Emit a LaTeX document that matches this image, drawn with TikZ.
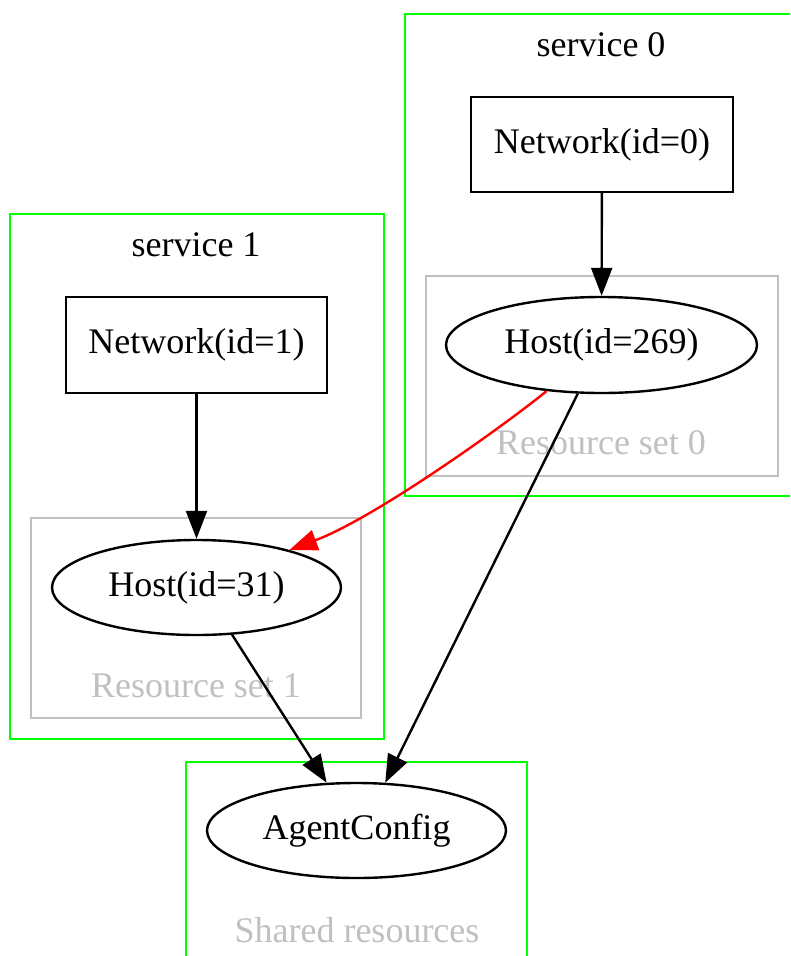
\documentclass[tikz,border=0pt]{standalone}
\usepackage{fontspec}
\setmainfont{Liberation Serif}
\usetikzlibrary{shapes.geometric,arrows.meta}
\definecolor{clgreen}{HTML}{00FF00}
\definecolor{clgray}{HTML}{C0C0C0}
\begin{document}
\begin{tikzpicture}[x=1pt,y=-1pt,
  every node/.style={font=\fontsize{36}{43}\selectfont},
  netbox/.style={draw,line width=2.4pt,rectangle,inner sep=0pt},
  hostell/.style={draw,line width=2.4pt,ellipse,inner sep=0pt},
  svccluster/.style={draw=clgreen,line width=2.4pt},
  rescluster/.style={draw=clgray,line width=2.4pt},
  reslabel/.style={text=clgray},
  edge/.style={line width=2.4pt,-{Triangle[length=28pt,width=21pt]}},
  redge/.style={edge,draw=red}]
\clip (0,0) rectangle (790,956);
\fill[white] (0,0) rectangle (790,956);
% clusters
\draw[svccluster] (405,14) rectangle (805,496);
\draw[svccluster] (10,214) rectangle (384,739);
\draw[svccluster] (186,762) rectangle (527,980);
\draw[rescluster] (426,276) rectangle (778,476);
\draw[rescluster] (31,518) rectangle (361,718);
% labels
\node (l0) at (601,45) {service 0};
\node (l1) at (196,245) {service 1};
\node[reslabel] (r0) at (601,443) {Resource set 0};
\node[reslabel] (r1) at (196,686) {Resource set 1};
\node[reslabel] (rs) at (357,930) {Shared resources};
% nodes
\node[netbox,minimum width=262pt,minimum height=95pt] (n0) at (602,144.5) {Network(id=0)};
\node[netbox,minimum width=261pt,minimum height=96pt] (n1) at (196.5,345) {Network(id=1)};
\node[hostell,minimum width=311pt,minimum height=96pt] (h269) at (601.5,345) {Host(id=269)};
\node[hostell,minimum width=289pt,minimum height=95pt] (h31) at (196.5,587.5) {Host(id=31)};
\node[hostell,minimum width=299pt,minimum height=95pt] (ac) at (356.5,830.5) {AgentConfig};
% edges
\draw[edge] (n0) -- (h269);
\draw[edge] (n1) -- (h31);
\draw[redge] (h269.220) .. controls (505,425) and (375,518) .. (h31.22);
\draw[edge] (h269.244) -- (ac.59);
\draw[edge] (h31.-53) -- (ac.122);
\end{tikzpicture}
\end{document}
